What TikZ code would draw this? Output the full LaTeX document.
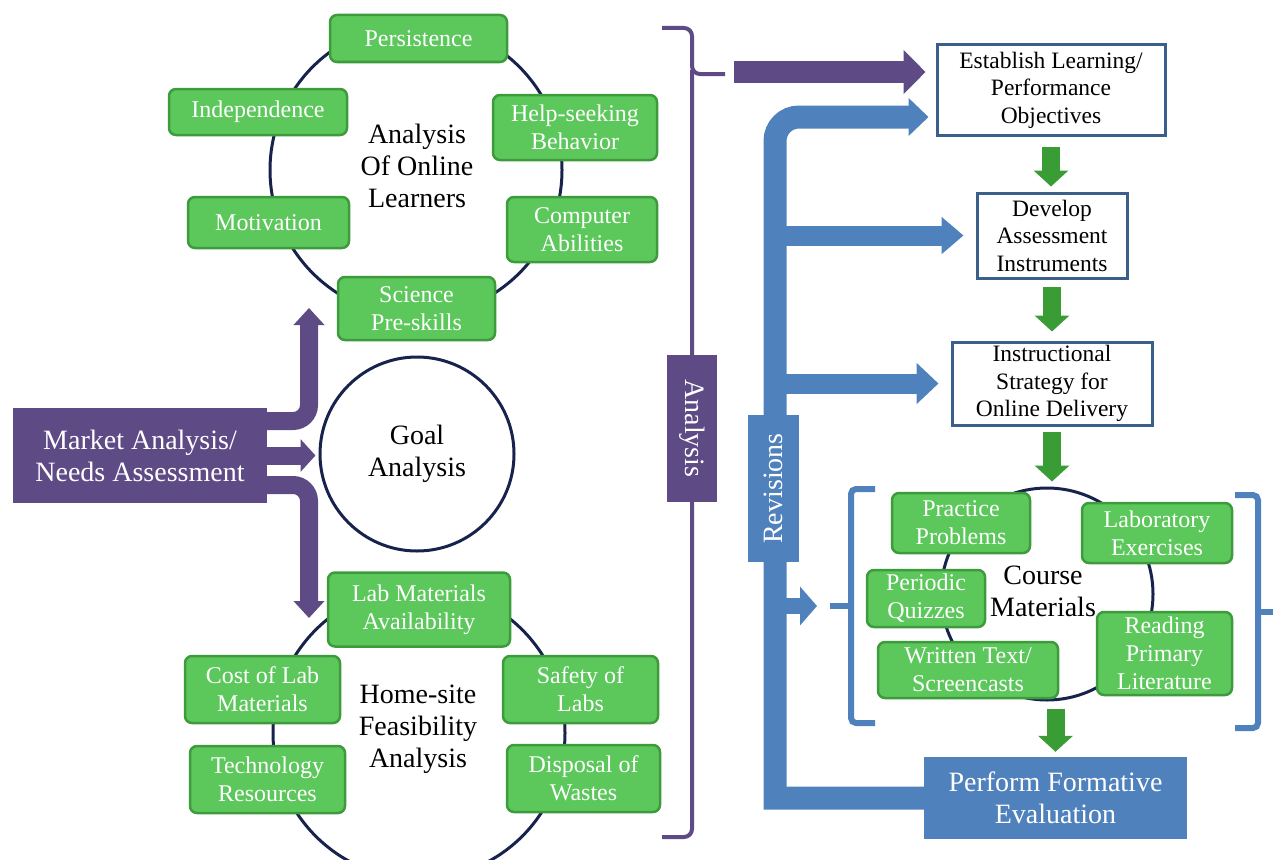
\documentclass[tikz,border=0pt]{standalone}
\usepackage{fontspec}
\setmainfont{Liberation Serif}
\usetikzlibrary{arrows.meta,calc}
\definecolor{purp}{HTML}{5E4A85}
\definecolor{gfill}{HTML}{5CC75B}
\definecolor{gline}{HTML}{3E9B3C}
\definecolor{gdark}{HTML}{3A9C34}
\definecolor{blu}{HTML}{4F81BD}
\definecolor{navy}{HTML}{17234C}
\definecolor{bframe}{HTML}{3A5F8C}
\begin{document}
\begin{tikzpicture}[x=1pt,y=-1pt,
  gbox/.style={draw=gline, fill=gfill, line width=2.5pt, rounded corners=7pt,
    text=white, align=center, inner sep=0pt, font=\fontsize{24}{28}\selectfont},
  wbox/.style={draw=bframe, fill=white, line width=3pt, align=center,
    inner sep=0pt, font=\fontsize{23.5}{27.5}\selectfont},
  ring/.style={circle, draw=navy, line width=3pt, inner sep=0pt},
  bigtext/.style={align=center, font=\fontsize{28}{32}\selectfont},
  pline/.style={draw=purp, line width=18pt},
  bl/.style={draw=blu},
  gar/.style={draw=gdark, line width=18pt, -{Triangle[width=34pt,length=16pt]}},
  brace/.style={draw=purp, line width=4pt, rounded corners=8pt},
  bracket/.style={draw=blu, line width=6pt, rounded corners=5pt}]
\clip (0,0) rectangle (1273,859);

% ---------- left: analysis of learners, goal, feasibility ----------
\node[ring, minimum size=292pt] (learnc) at (416,170) {};
\node[ring, minimum size=194pt, bigtext] (goalc) at (417,454) {Goal\\Analysis};
\node[ring, minimum size=292pt] (feasc) at (419,733) {};

\node[bigtext] (learnt) at (417,166) {Analysis\\Of Online\\Learners};
\node[bigtext] (feast) at (418,729) {Home-site\\Feasibility\\Analysis};

\node[gbox, minimum width=177pt, minimum height=47pt] (pers) at (418.5,38.5) {Persistence};
\node[gbox, minimum width=178pt, minimum height=46pt] (indep) at (258,112) {Independence};
\node[gbox, minimum width=164pt, minimum height=65pt] (help) at (575,127.5) {Help-seeking\\Behavior};
\node[gbox, minimum width=161pt, minimum height=51pt] (motiv) at (268.5,222.5) {Motivation};
\node[gbox, minimum width=150pt, minimum height=65pt] (comp) at (582,229.5) {Computer\\Abilities};
\node[gbox, minimum width=157pt, minimum height=63pt] (sci) at (416.5,308.5) {Science\\Pre-skills};

\node[gbox, minimum width=182pt, minimum height=74pt] (labmat) at (419,609.5) {Lab Materials\\Availability};
\node[gbox, minimum width=155pt, minimum height=67pt] (cost) at (262.5,689.5) {Cost of Lab\\Materials};
\node[gbox, minimum width=155pt, minimum height=67pt] (tech) at (267.5,779.5) {Technology\\Resources};
\node[gbox, minimum width=155pt, minimum height=67pt] (safety) at (580.5,689.5) {Safety of\\Labs};
\node[gbox, minimum width=153pt, minimum height=67pt] (disp) at (583.5,778.5) {Disposal of\\Wastes};

% market analysis box and its three arrows
\node[fill=purp, text=white, minimum width=254pt, minimum height=95pt, bigtext] (mkt) at (140,455.5) {Market Analysis/\\Needs Assessment};
\coordinate (uptip) at (309,308);
\coordinate (dntip) at (309,618);
\draw[pline, rounded corners=16pt, -{Triangle[width=30pt,length=17pt]}] ([yshift=34.5pt]mkt.east) -| (uptip);
\draw[pline, -{Triangle[width=32pt,length=15pt]}, shorten >=3pt] (mkt.east) -- (mkt.east -| goalc.west);
\draw[pline, rounded corners=16pt, -{Triangle[width=30pt,length=17pt]}] ([yshift=-29.5pt]mkt.east) -| (dntip);

% analysis brace
\draw[brace] (662,28) -- (692,28) -- (692,74) -- (725,74);
\draw[brace] (692,70) -- (692,837) -- (662,837);
\node[fill=purp, text=white, minimum width=147pt, minimum height=50pt, rotate=-90, bigtext, inner sep=0pt] (anl) at (692,428.5) {Analysis};

% ---------- right: design steps ----------
\node[wbox, minimum width=228pt, minimum height=90pt] (estab) at (1051,90) {Establish Learning/\\Performance\\Objectives};
\node[wbox, minimum width=150pt, minimum height=85pt] (develop) at (1052,235.5) {Develop\\Assessment\\Instruments};
\node[wbox, minimum width=200pt, minimum height=83pt] (instr) at (1052,383.5) {Instructional\\Strategy for\\Online Delivery};
\node[fill=blu, text=white, minimum width=263pt, minimum height=82pt, bigtext] (perf) at (1055.5,798) {Perform Formative\\Evaluation};

\coordinate (pstart) at (734,72);
\draw[pline, line width=21pt, -{Triangle[width=43pt,length=22pt]}, shorten >=10pt] (pstart) -- (pstart -| estab.west);

% course materials
\node[ring, minimum size=212pt] (coursec) at (1047,594) {};
\node[bigtext] (courset) at (1043,591) {Course\\Materials};
\node[gbox, minimum width=138pt, minimum height=60pt] (pract) at (961,523) {Practice\\Problems};
\node[gbox, minimum width=150pt, minimum height=60pt] (labex) at (1157,533) {Laboratory\\Exercises};
\node[gbox, minimum width=118pt, minimum height=57pt] (quiz) at (926,598.5) {Periodic\\Quizzes};
\node[gbox, minimum width=180pt, minimum height=56pt] (written) at (968,670) {Written Text/\\Screencasts};
\node[gbox, minimum width=135pt, minimum height=83pt] (reading) at (1164.5,653.5) {Reading\\Primary\\Literature};

\draw[bracket] (875,489) -- (851,489) -- (851,723) -- (875,723);
\coordinate (ctick) at (830,606);
\draw[bracket, rounded corners=0pt] (851,606) -- (ctick);
\draw[bracket] (1235,495) -- (1258,495) -- (1258,728) -- (1235,728);
\coordinate (rtick) at (1273,612);
\draw[bracket, rounded corners=0pt] (1258,612) -- (rtick);

% green flow arrows
\draw[gar, shorten <=10pt, shorten >=5pt] (estab.south) -- (estab.south |- develop.north);
\draw[gar, shorten <=7pt, shorten >=9pt] (develop.south) -- (develop.south |- instr.north);
\draw[gar, shorten <=5pt, shorten >=5pt] (instr.south) -- (instr.south |- coursec.north);
\draw[gar, shorten <=7pt, shorten >=5pt] (perf.north |- coursec.south) -- (perf.north);

% revisions loop: square lower corner, rounded upper one, in one stroke
\coordinate (rvbot) at (775,798);
\coordinate (rvtop) at (775,117);
\draw[bl, line width=23pt, -{Triangle[width=37pt,length=20pt]}, shorten >=7pt]
  (perf.west) -- (rvbot) [rounded corners=24pt] -- (rvtop) -- ([yshift=-27pt]estab.west);
\draw[bl, line width=20pt, -{Triangle[width=36pt,length=22pt]}, shorten >=12pt] (develop.west -| rvtop) -- (develop.west);
\draw[bl, line width=20pt, -{Triangle[width=40pt,length=22pt]}, shorten >=12pt] (instr.west -| rvtop) -- (instr.west);
\draw[bl, line width=16pt, -{Triangle[width=38pt,length=17pt]}, shorten >=13pt] (ctick -| rvtop) -- (ctick);
\node[fill=blu, text=white, minimum width=147pt, minimum height=51pt, rotate=90, bigtext, inner sep=0pt] (rev) at (773.5,488.5) {Revisions};
\end{tikzpicture}
\end{document}
